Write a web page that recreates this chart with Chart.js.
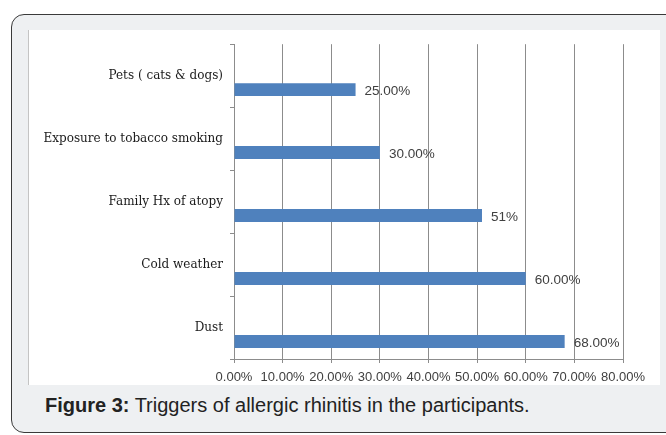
<!DOCTYPE html>
<html>
<head>
<meta charset="utf-8">
<script src="https://cdn.jsdelivr.net/npm/chart.js@4/dist/chart.umd.min.js"></script>
<style>
  html, body { margin: 0; padding: 0; background: #ffffff; width: 666px; height: 435px; overflow: hidden; }
  #frame { position: absolute; left: 11px; top: 14px; width: 700px; height: 417px;
           border: 1.5px solid #3a3a3a; border-radius: 13px; background: #eef0f2; }
  #plotbox { position: absolute; left: 28px; top: 30px; width: 631px; height: 355px;
             background: #ffffff; border-left: 1px solid #c4c4c4; }
  #caption { position: absolute; left: 45px; top: 395px; font-family: "Liberation Sans", Arial, sans-serif;
             font-size: 20px; line-height: 20px; color: #222; white-space: nowrap; }
  #caption b { font-weight: bold; }
</style>
</head>
<body>
<div id="frame"></div>
<div id="plotbox"><canvas id="c" width="631" height="355"></canvas></div>
<div id="caption"><b>Figure 3:</b> Triggers of allergic rhinitis in the participants.</div>
<script>
const categories = ["Pets ( cats & dogs)", "Exposure to tobacco smoking", "Family Hx of atopy", "Cold weather", "Dust"];
const values = [25, 30, 51, 60, 68];
const valueLabels = ["25.00%", "30.00%", "51%", "60.00%", "68.00%"];
const spacerValues = [null, null, null, null, null];
const axisMin = 0;
const axisMax = 80;
const axisStep = 10;

const dataLabelPlugin = {
  id: 'dataLabels',
  afterDatasetsDraw(chart) {
    const ctx = chart.ctx;
    const meta = chart.getDatasetMeta(1);
    ctx.save();
    ctx.font = '13.5px "Liberation Sans", Arial, sans-serif';
    ctx.fillStyle = '#404040';
    ctx.textAlign = 'left';
    ctx.textBaseline = 'middle';
    meta.data.forEach((bar, i) => {
      ctx.fillText(valueLabels[i], bar.x + 9, bar.y + 2);
    });
    ctx.restore();
  }
};

new Chart(document.getElementById('c'), {
  type: 'bar',
  data: {
    labels: categories,
    datasets: [
      { data: spacerValues, backgroundColor: 'rgba(0,0,0,0)' },
      { data: values, backgroundColor: '#4f81bd', borderColor: '#4a7ebb', borderWidth: 0 }
    ]
  },
  options: {
    indexAxis: 'y',
    responsive: false,
    animation: false,
    devicePixelRatio: 1,
    categoryPercentage: 0.886,
    barPercentage: 0.464,
    layout: { padding: { left: 0, right: 37, top: 13, bottom: 0 } },
    plugins: { legend: { display: false }, tooltip: { enabled: false } },
    scales: {
      x: {
        min: axisMin, max: axisMax,
        afterFit(scale) { scale.height = 26; },
        ticks: {
          stepSize: axisStep, autoSkip: false, maxRotation: 0,
          padding: 7, color: '#404040',
          font: { family: '"Liberation Sans", Arial, sans-serif', size: 13 },
          callback: v => v.toFixed(2) + '%'
        },
        grid: { color: '#8c8c8c', lineWidth: 1, drawTicks: true, tickLength: 4, tickColor: '#8c8c8c' },
        border: { display: true, color: '#8c8c8c' }
      },
      y: {
        afterFit(scale) { scale.width = 205; },
        ticks: {
          padding: 7, color: '#1a1a1a',
          font: { family: '"DejaVu Serif", serif', size: 12 }
        },
        grid: { offset: true, drawOnChartArea: false, drawTicks: true, tickLength: 4, tickColor: '#8c8c8c' },
        border: { display: true, color: '#8c8c8c' }
      }
    }
  },
  plugins: [dataLabelPlugin]
});
</script>
</body>
</html>
